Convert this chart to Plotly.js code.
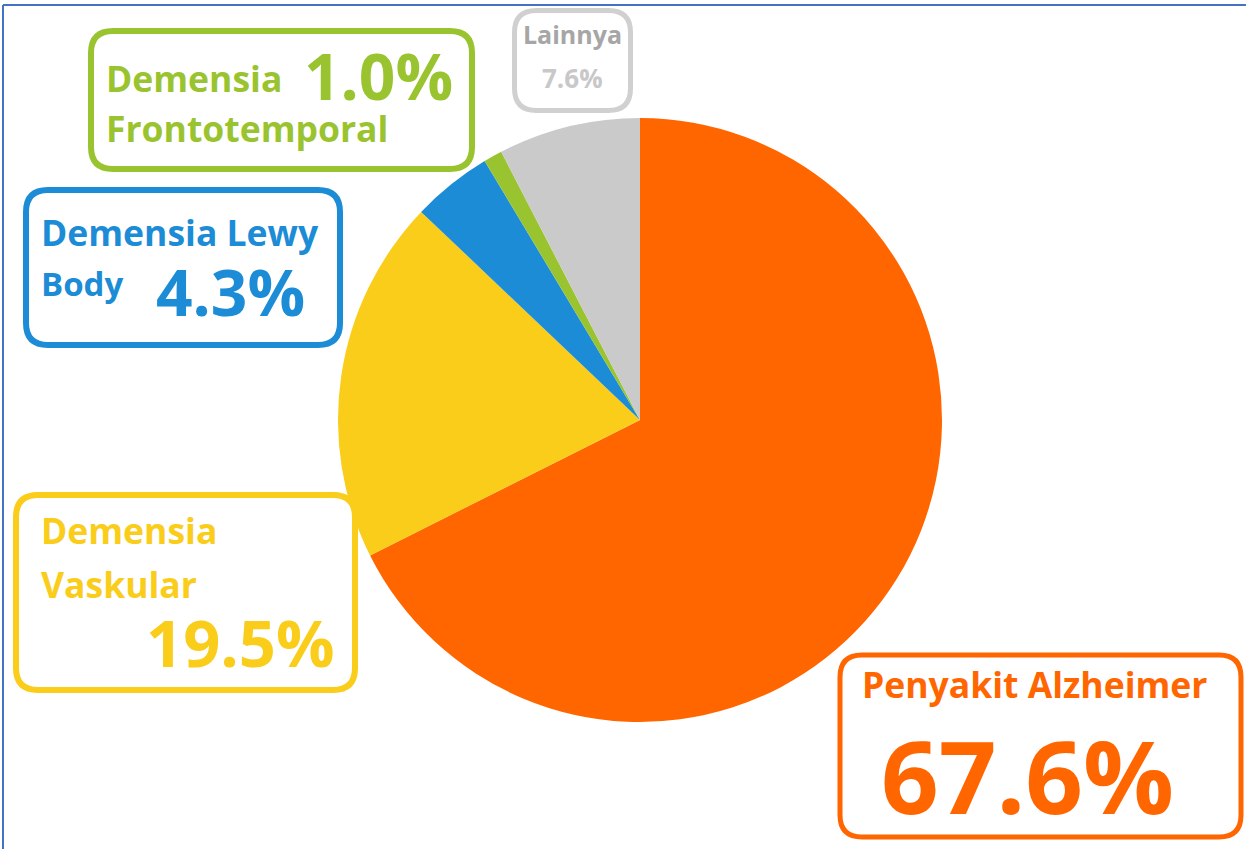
<!DOCTYPE html>
<html>
<head>
<meta charset="utf-8">
<script src="https://cdn.plot.ly/plotly-3.0.1.min.js"></script>
<style>
html,body{margin:0;padding:0;background:#fff;}
#chart{width:1246px;height:849px;}
</style>
</head>
<body>
<div id="chart"></div>
<script>
// ---- data ----
const categories = ["Penyakit Alzheimer", "Demensia Vaskular", "Demensia Lewy Body", "Demensia Frontotemporal", "Lainnya"];
const values = [67.6, 19.5, 4.3, 1.0, 7.6];
const sliceColors = ["#FF6600", "#F9CD1A", "#1B8CD5", "#9AC42F", "#CACACA"];

// ---- layout helpers (pixel -> paper) ----
const W = 1246, H = 849;
const px = x => x / W;
const py = y => 1 - y / H;
const FONT = "Open Sans, DejaVu Sans, sans-serif";

function rr(x0, y0, x1, y1, r) {
  return "M " + px(x0 + r) + "," + py(y0) +
    " L " + px(x1 - r) + "," + py(y0) +
    " Q " + px(x1) + "," + py(y0) + " " + px(x1) + "," + py(y0 + r) +
    " L " + px(x1) + "," + py(y1 - r) +
    " Q " + px(x1) + "," + py(y1) + " " + px(x1 - r) + "," + py(y1) +
    " L " + px(x0 + r) + "," + py(y1) +
    " Q " + px(x0) + "," + py(y1) + " " + px(x0) + "," + py(y1 - r) +
    " L " + px(x0) + "," + py(y0 + r) +
    " Q " + px(x0) + "," + py(y0) + " " + px(x0 + r) + "," + py(y0) + " Z";
}
const pct = v => v.toFixed(1) + "%";

function ann(text, x, y, size, color, xanchor) {
  return {
    text: "<b>" + text + "</b>", x: px(x), y: py(y), xref: "paper", yref: "paper",
    xanchor: xanchor || "left", yanchor: "middle", showarrow: false,
    font: {family: FONT, size: size, color: color}
  };
}

const trace = {
  type: "pie",
  labels: categories,
  values: values,
  marker: {colors: sliceColors, line: {width: 0}},
  sort: false,
  direction: "clockwise",
  rotation: 0,
  textinfo: "none",
  hoverinfo: "label+percent",
  domain: {x: [px(338), px(942)], y: [py(722), py(118)]},
  showlegend: false
};

const boxes = [
  {c: sliceColors[3], b: [91, 31, 472, 169], w: 6},
  {c: "#D0D0D0", b: [514.5, 10.5, 630.5, 110.5], w: 5},
  {c: sliceColors[2], b: [26, 190, 340, 345], w: 6},
  {c: sliceColors[1], b: [16, 495, 355, 690], w: 6},
  {c: sliceColors[0], b: [840, 655, 1241, 837], w: 5}
];
const shapes = boxes.map(o => ({
  type: "path", xref: "paper", yref: "paper",
  path: rr(o.b[0], o.b[1], o.b[2], o.b[3], 22),
  line: {color: o.c, width: o.w}, fillcolor: "rgba(0,0,0,0)"
}));
// thin frame lines (top and left)
shapes.push({type: "line", xref: "paper", yref: "paper", x0: px(3), x1: px(1246), y0: py(5), y1: py(5), line: {color: "#4472C4", width: 2}});
shapes.push({type: "line", xref: "paper", yref: "paper", x0: px(3), x1: px(3), y0: py(5), y1: py(849), line: {color: "#4472C4", width: 2}});

const annotations = [
  // Frontotemporal
  ann("Demensia", 104, 78, 35.5, sliceColors[3]),
  ann(pct(values[3]), 302, 76, 64, sliceColors[3]),
  ann("Frontotemporal", 104, 128, 35.5, sliceColors[3]),
  // Lainnya
  ann(categories[4], 572, 34, 25, "#A6A6A6", "center"),
  ann(pct(values[4]), 572, 78, 26, "#C8C8C8", "center"),
  // Lewy Body
  ann("Demensia Lewy", 39, 232, 35.5, sliceColors[2]),
  ann("Body", 39, 284, 33, sliceColors[2]),
  ann(pct(values[2]), 154, 291, 64, sliceColors[2]),
  // Vaskular
  ann("Demensia", 39, 530, 35.5, sliceColors[1]),
  ann("Vaskular", 39, 584, 35.5, sliceColors[1]),
  ann(pct(values[1]), 337, 642, 65, sliceColors[1], "right"),
  // Alzheimer
  ann(categories[0], 860, 684, 35.5, sliceColors[0]),
  ann(pct(values[0]), 879, 775, 101, sliceColors[0])
];

const layout = {
  width: W, height: H,
  margin: {l: 0, r: 0, t: 0, b: 0},
  paper_bgcolor: "#ffffff",
  showlegend: false,
  shapes: shapes,
  annotations: annotations
};

Plotly.newPlot("chart", [trace], layout, {displayModeBar: false, staticPlot: true});
</script>
</body>
</html>
